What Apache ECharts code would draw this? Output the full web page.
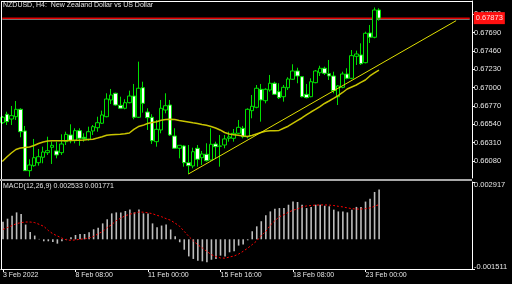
<!DOCTYPE html>
<html><head><meta charset="utf-8">
<script src="https://cdn.jsdelivr.net/npm/echarts@6/dist/echarts.min.js"></script>
<style>html,body{margin:0;padding:0;background:#000;}#c{width:512px;height:284px;}</style>
</head><body><div id="c"></div>
<script>
// ---- data ----
const xTickLabels = ['3 Feb 2022','8 Feb 08:00','11 Feb 00:00','15 Feb 16:00','18 Feb 08:00','23 Feb 00:00'];
const barsPerTick = 16;
const totalSlots = 104; // 84 bars + empty chart shift
const priceTicks = [0.66080,0.66310,0.66540,0.66770,0.67000,0.67230,0.67460,0.67690,0.67920];
const macdTicks = [0.002917,-0.001511];
const opens = [0.66561,0.66667,0.66607,0.66636,0.66729,0.66457,0.65959,0.66022,0.66059,0.66127,
0.66185,0.66252,0.66206,0.66185,0.66323,0.66407,0.66335,0.66461,0.66378,0.66353,
0.66457,0.66498,0.66554,0.66636,0.66846,0.66930,0.66779,0.66742,0.66812,0.66896,
0.66629,0.67000,0.66695,0.66629,0.66323,0.66470,0.66720,0.66783,0.66394,0.66240,
0.66269,0.66059,0.66018,0.66240,0.66122,0.66165,0.66093,0.66294,0.66265,0.66281,
0.66365,0.66365,0.66428,0.66491,0.66385,0.66712,0.66754,0.66980,0.66837,0.66971,
0.67056,0.66950,0.66887,0.67000,0.67106,0.67210,0.67138,0.66917,0.66887,0.67063,
0.67188,0.67244,0.67176,0.67147,0.66887,0.67005,0.67172,0.67118,0.67394,0.67411,
0.67314,0.67687,0.67633,0.67975];
const highs = [0.66645,0.66699,0.66771,0.66833,0.66742,0.66520,0.66102,0.66357,0.66231,0.66260,
0.66385,0.66323,0.66323,0.66415,0.66448,0.66541,0.66491,0.66491,0.66428,0.66511,
0.66532,0.66636,0.66712,0.66930,0.66984,0.66937,0.66887,0.66855,0.66963,0.67047,
0.67327,0.67075,0.66742,0.66667,0.66595,0.66846,0.66930,0.66846,0.66491,0.66277,
0.66281,0.66281,0.66247,0.66281,0.66206,0.66303,0.66491,0.66323,0.66407,0.66407,
0.66448,0.66482,0.66595,0.66520,0.66742,0.66909,0.67034,0.67047,0.66993,0.67160,
0.67075,0.67056,0.67034,0.67131,0.67294,0.67251,0.67147,0.67047,0.67118,0.67222,
0.67276,0.67264,0.67348,0.67201,0.67034,0.67201,0.67244,0.67473,0.67465,0.67557,
0.67703,0.67787,0.68007,0.67997];
const lows = [0.66545,0.66532,0.66532,0.66595,0.66378,0.65955,0.65884,0.66009,0.66022,0.66052,
0.66156,0.66043,0.66114,0.66156,0.66281,0.66303,0.66303,0.66272,0.66323,0.66335,
0.66407,0.66448,0.66545,0.66629,0.66796,0.66774,0.66742,0.66729,0.66804,0.66604,
0.66620,0.66687,0.66470,0.66294,0.66260,0.66428,0.66679,0.66394,0.66231,0.66114,
0.66009,0.65917,0.65989,0.66009,0.66030,0.66072,0.66087,0.66114,0.66009,0.66240,
0.66323,0.66323,0.66419,0.66365,0.66365,0.66616,0.66742,0.66574,0.66804,0.66950,
0.66909,0.66858,0.66825,0.66971,0.67097,0.67056,0.66880,0.66867,0.66880,0.67056,
0.67147,0.67160,0.67097,0.66930,0.66783,0.66993,0.67106,0.67106,0.67285,0.67285,
0.67306,0.67561,0.67620,0.67841];
const closes = [0.66629,0.66574,0.66649,0.66729,0.66448,0.65959,0.66030,0.66122,0.66134,0.66193,
0.66210,0.66277,0.66156,0.66294,0.66415,0.66335,0.66461,0.66365,0.66360,0.66448,
0.66511,0.66561,0.66658,0.66858,0.66909,0.66783,0.66742,0.66812,0.66896,0.66629,
0.66993,0.66804,0.66624,0.66335,0.66478,0.66742,0.66774,0.66407,0.66240,0.66277,
0.66059,0.66022,0.66197,0.66102,0.66168,0.66084,0.66290,0.66260,0.66269,0.66357,
0.66382,0.66428,0.66503,0.66385,0.66729,0.66767,0.66993,0.66846,0.66980,0.67056,
0.66917,0.66875,0.67005,0.67109,0.67210,0.67147,0.66887,0.66875,0.67075,0.67210,
0.67244,0.67181,0.67147,0.66963,0.67022,0.67172,0.67118,0.67402,0.67423,0.67301,
0.67683,0.67633,0.67975,0.67873];
const maValues = [0.66074,0.66131,0.66181,0.66225,0.66244,0.66250,0.66256,0.66275,0.66300,0.66319,
0.66331,0.66334,0.66334,0.66335,0.66335,0.66338,0.66340,0.66341,0.66344,0.66349,
0.66354,0.66369,0.66385,0.66403,0.66409,0.66413,0.66417,0.66422,0.66432,0.66476,
0.66513,0.66528,0.66551,0.66564,0.66574,0.66591,0.66600,0.66604,0.66602,0.66589,
0.66580,0.66570,0.66560,0.66551,0.66538,0.66528,0.66513,0.66495,0.66470,0.66438,
0.66419,0.66411,0.66403,0.66394,0.66388,0.66400,0.66419,0.66438,0.66453,0.66459,
0.66461,0.66464,0.66491,0.66517,0.66552,0.66586,0.66620,0.66658,0.66695,0.66727,
0.66764,0.66802,0.66833,0.66865,0.66902,0.66940,0.66984,0.67009,0.67034,0.67066,
0.67097,0.67147,0.67185,0.67222];
const trendIdx = [41, 100];
const trendVal = [0.65917, 0.67841];
const priceLine = 0.67873;
const askLine = 0.67859;
const macdHist = [0.00090,0.00105,0.00120,0.00137,0.00129,0.00075,0.00037,0.00019,0.00002,-0.00010,
-0.00010,-0.00014,-0.00022,-0.00010,0.00002,0.00010,0.00022,0.00027,0.00027,0.00036,
0.00051,0.00059,0.00081,0.00102,0.00132,0.00137,0.00137,0.00144,0.00152,0.00137,
0.00152,0.00132,0.00132,0.00081,0.00061,0.00070,0.00075,0.00050,0.00015,-0.00015,
-0.00053,-0.00087,-0.00100,-0.00109,-0.00112,-0.00117,-0.00104,-0.00100,-0.00083,-0.00087,
-0.00066,-0.00061,-0.00032,-0.00027,-0.00005,0.00041,0.00066,0.00092,0.00122,0.00142,
0.00156,0.00159,0.00159,0.00176,0.00193,0.00190,0.00176,0.00159,0.00165,0.00176,
0.00176,0.00171,0.00168,0.00151,0.00142,0.00142,0.00137,0.00151,0.00165,0.00165,
0.00192,0.00207,0.00241,0.002533];
const macdSignal = [0.00050,0.00060,0.00070,0.00080,0.00085,0.00088,0.00088,0.00085,0.00076,0.00066,
0.00045,0.00028,0.00017,0.00006,-0.00003,-0.00005,-0.00003,0.00000,0.00003,0.00007,
0.00015,0.00028,0.00040,0.00060,0.00075,0.00095,0.00108,0.00120,0.00128,0.00133,
0.00139,0.00138,0.00135,0.00130,0.00122,0.00115,0.00105,0.00097,0.00082,0.00066,
0.00040,0.00015,-0.00008,-0.00028,-0.00044,-0.00062,-0.00078,-0.00088,-0.00095,-0.00096,
-0.00090,-0.00085,-0.00075,-0.00061,-0.00045,-0.00027,-0.00008,0.00020,0.00040,0.00072,
0.00095,0.00115,0.00125,0.00138,0.00148,0.00155,0.00165,0.00170,0.00172,0.00174,
0.00175,0.00175,0.00174,0.00172,0.00168,0.00165,0.00160,0.00156,0.00154,0.00154,
0.00156,0.00160,0.00168,0.001771];

// ---- build ----
const cats = [];
for (let i = 0; i < totalSlots; i++) cats.push(String(i));
const candleData = opens.map((o, i) => [o, closes[i], lows[i], highs[i]]);
const trendData = trendIdx.map((ix, k) => [ix, trendVal[k]]);
const hLine = v => [[0, v], [totalSlots - 1, v]];
const isTick = idx => idx % barsPerTick === 0 && (idx / barsPerTick) < xTickLabels.length;
const FONT = 'Liberation Sans';
const TXT = '#e4e4e4';

const chart = echarts.init(document.getElementById('c'), null, {renderer: 'canvas'});
chart.setOption({
  backgroundColor: '#000000',
  animation: false,
  title: [
    {text: 'NZDUSD, H4:  New Zealand Dollar vs US Dollar', left: 3, top: 2, padding: 0,
     textStyle: {color: TXT, fontSize: 7, fontWeight: 'normal', fontFamily: FONT}},
    {text: 'MACD(12,26,9) 0.002533 0.001771', left: 3, top: 183, padding: 0,
     textStyle: {color: TXT, fontSize: 7, fontWeight: 'normal', fontFamily: FONT}}
  ],
  grid: [
    {left: 0, top: 1, width: 472, height: 177},
    {left: 0, top: 182, width: 472, height: 87}
  ],
  xAxis: [
    {type: 'category', gridIndex: 0, data: cats, boundaryGap: true,
     axisLine: {show: false}, axisTick: {show: false}, axisLabel: {show: false}, splitLine: {show: false}},
    {type: 'category', gridIndex: 1, data: cats, boundaryGap: true,
     axisLine: {show: true, onZero: false, lineStyle: {color: '#ffffff', width: 1}},
     axisTick: {show: true, interval: isTick, alignWithLabel: true, length: 3, lineStyle: {color: '#ffffff'}},
     axisLabel: {show: true, interval: isTick, align: 'left', margin: 3, color: TXT,
       fontSize: 7, fontFamily: FONT,
       formatter: (v, idx) => isTick(idx) ? xTickLabels[idx / barsPerTick] : ''},
     splitLine: {show: false}}
  ],
  yAxis: [
    {type: 'value', gridIndex: 0, position: 'right', min: 0.65867, max: 0.68088,
     axisLine: {show: true, onZero: false, lineStyle: {color: '#ffffff'}},
     axisTick: {show: true, customValues: priceTicks, length: 3, lineStyle: {color: '#ffffff'}},
     axisLabel: {show: true, customValues: priceTicks, margin: 2, color: TXT, fontSize: 7.5, fontFamily: FONT,
       formatter: v => v.toFixed(5)},
     splitLine: {show: false}},
    {type: 'value', gridIndex: 1, position: 'right', min: -0.001511, max: 0.002917,
     axisLine: {show: true, onZero: false, lineStyle: {color: '#ffffff'}},
     axisTick: {show: true, customValues: macdTicks, length: 3, lineStyle: {color: '#ffffff'}},
     axisLabel: {show: true, customValues: macdTicks, margin: 2, color: TXT, fontSize: 7.5, fontFamily: FONT,
       formatter: v => v > 0 ? '{a|' + v.toFixed(6) + '}' : '{b|' + v.toFixed(6) + '}',
       rich: {a: {padding: [6, 0, 0, 0], color: TXT, fontSize: 7.5, fontFamily: FONT},
              b: {padding: [0, 0, 5, 0], color: TXT, fontSize: 7.5, fontFamily: FONT}}},
     splitLine: {show: false}}
  ],
  series: [
    {type: 'line', xAxisIndex: 0, yAxisIndex: 0, data: hLine(askLine), symbol: 'none', z: 1,
     lineStyle: {color: '#9a9a9a', width: 1}},
    {type: 'line', xAxisIndex: 0, yAxisIndex: 0, data: hLine(priceLine), symbol: 'none', z: 1,
     lineStyle: {color: '#e00000', width: 1.5},
     endLabel: {show: true, formatter: priceLine.toFixed(5), distance: 4,
       backgroundColor: '#ff1010', color: '#ffe0e0', padding: [2, 2, 2, 2], fontSize: 7.5, fontFamily: FONT}},
    {type: 'candlestick', xAxisIndex: 0, yAxisIndex: 0, data: candleData, barWidth: 4,
     itemStyle: {color: '#000000', color0: '#ffffff', borderColor: '#00e000', borderColor0: '#00e000', borderWidth: 1}},
    {type: 'line', xAxisIndex: 0, yAxisIndex: 0, data: maValues, symbol: 'none',
     lineStyle: {color: '#c8c400', width: 1.5}},
    {type: 'line', xAxisIndex: 0, yAxisIndex: 0, data: trendData, symbol: 'none',
     lineStyle: {color: '#e0e000', width: 1}},
    {type: 'bar', xAxisIndex: 1, yAxisIndex: 1, data: macdHist, barWidth: 1.6,
     itemStyle: {color: '#bdbdbd'}},
    {type: 'line', xAxisIndex: 1, yAxisIndex: 1, data: macdSignal, symbol: 'none',
     lineStyle: {color: '#ff0000', width: 1, type: [2, 2]}}
  ],
  graphic: [
    {type: 'line', shape: {x1: 1, y1: 1.5, x2: 472.5, y2: 1.5}, style: {stroke: '#ffffff', lineWidth: 1}, z: 100},
    {type: 'line', shape: {x1: 1.5, y1: 1, x2: 1.5, y2: 270}, style: {stroke: '#ffffff', lineWidth: 1}, z: 100},
    {type: 'rect', shape: {x: 0, y: 179, width: 472, height: 2}, style: {fill: '#a8a8a8'}, z: 100}
  ]
});
</script></body></html>
